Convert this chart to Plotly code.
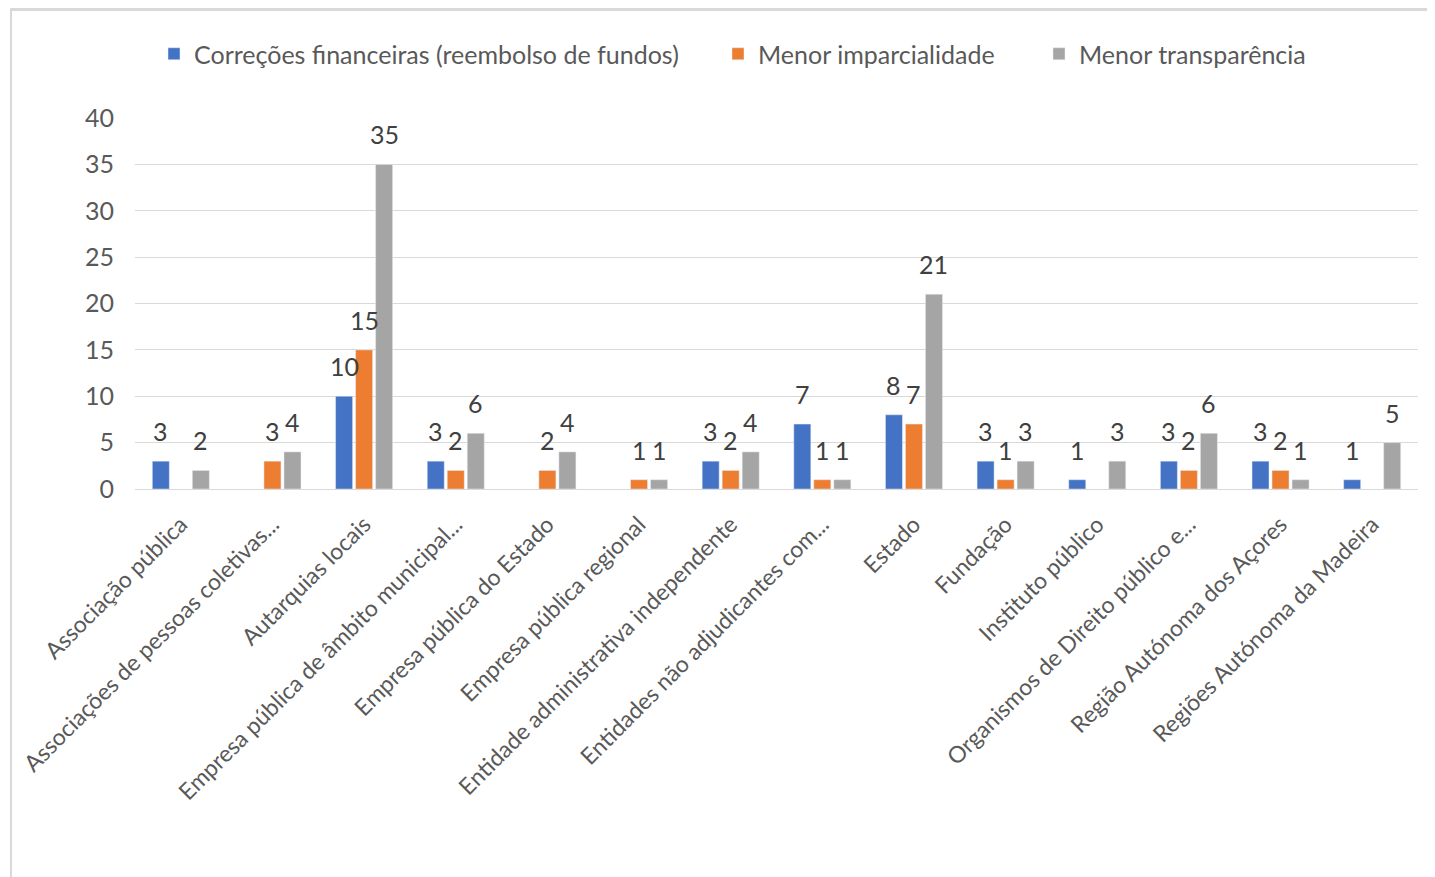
import plotly.graph_objects as go

categories = [
    "Associação pública",
    "Associações de pessoas coletivas...",
    "Autarquias locais",
    "Empresa pública de âmbito municipal...",
    "Empresa pública do Estado",
    "Empresa pública regional",
    "Entidade administrativa independente",
    "Entidades não adjudicantes com...",
    "Estado",
    "Fundação",
    "Instituto público",
    "Organismos de Direito público e...",
    "Região Autónoma dos Açores",
    "Regiões Autónoma da Madeira",
]
correcoes = [3, None, 10, 3, None, None, 3, 7, 8, 3, 1, 3, 3, 1]
imparcialidade = [None, 3, 15, 2, 2, 1, 2, 1, 7, 1, None, 2, 2, None]
transparencia = [2, 4, 35, 6, 4, 1, 4, 1, 21, 3, 3, 6, 1, 5]

# (name, values, colour, legend id, legend x px, label x shift px)
series = [
    ("Correções financeiras (reembolso de fundos)", correcoes, "#4472C4", "legend", 146, -20),
    ("Menor imparcialidade", imparcialidade, "#ED7D31", "legend2", 710, 0),
    ("Menor transparência", transparencia, "#A5A5A5", "legend3", 1031, 20),
]

FONT = "Lato"
W, H = 1435, 877
OFF = 8  # page body margin
L, R, T, B = 135 - OFF, 25, 118 - OFF, 877 - (489 - OFF)
pw, ph = W - L - R, H - T - B

fig = go.Figure()
legends = {}
annotations = []
for name, vals, color, leg, lx, sx in series:
    fig.add_trace(go.Bar(
        x=categories, y=vals, name=name, marker_color=color, legend=leg,
    ))
    legends[leg] = dict(orientation="h", x=lx / W, xanchor="left", xref="container",
                        y=1 - (54 - OFF) / H, yanchor="middle", yref="container",
                        font=dict(family=FONT, size=25, color="#595959"),
                        bgcolor="rgba(0,0,0,0)", itemwidth=30)
    for c, v in zip(categories, vals):
        if v is None:
            continue
        annotations.append(dict(x=c, y=v, xref="x", yref="y", text=str(v),
                                showarrow=False, xshift=sx, yshift=30,
                                yanchor="middle", xanchor="center",
                                font=dict(family=FONT, size=25, color="#404040")))

def px_x(x):
    return (x - OFF - L) / pw

def px_y(y):
    return (H - B - (y - OFF)) / ph

fig.update_layout(
    width=W, height=H,
    paper_bgcolor="white", plot_bgcolor="white",
    margin=dict(l=L, r=R, t=T, b=B, autoexpand=False),
    barmode="group", bargap=0.345, bargroupgap=0.15,
    font=dict(family=FONT, size=24, color="#595959"),
    showlegend=True,
    xaxis=dict(tickangle=-45, showgrid=False, showline=True, linecolor="#D9D9D9",
               ticks="", automargin=False, ticklabelstandoff=12,
               tickfont=dict(size=23, color="#595959")),
    yaxis=dict(range=[0, 40], dtick=5, showgrid=True, gridcolor="#D9D9D9",
               zeroline=False, ticks="", automargin=False, ticklabelstandoff=20,
               tickfont=dict(size=25, color="#595959")),
    annotations=annotations,
    shapes=[
        dict(type="line", xref="paper", yref="paper", x0=px_x(10), x1=px_x(1432),
             y0=px_y(9.5), y1=px_y(9.5), line=dict(color="#D9D9D9", width=3)),
        dict(type="line", xref="paper", yref="paper", x0=px_x(11), x1=px_x(11),
             y0=px_y(8), y1=px_y(885), line=dict(color="#D9D9D9", width=2)),
    ],
    **legends,
)
fig.write_html("out.html")
